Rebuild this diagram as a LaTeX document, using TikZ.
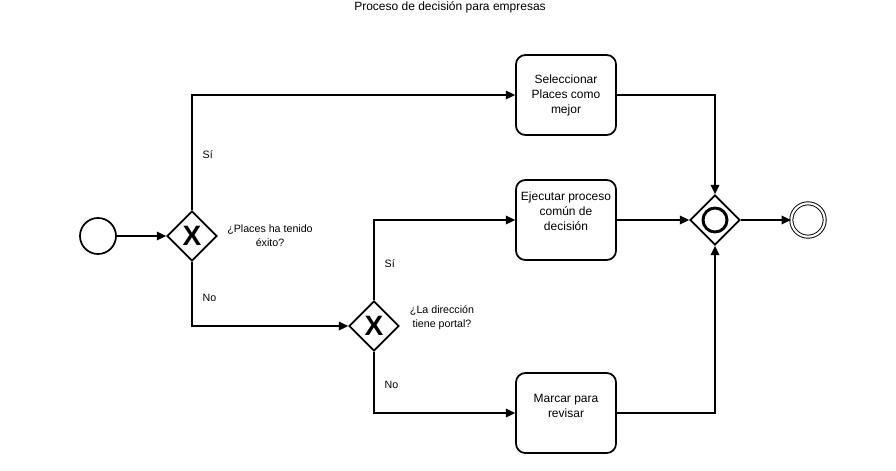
\documentclass[tikz,border=0pt]{standalone}
\usepackage{fontspec}
\setmainfont{Liberation Sans}
\usetikzlibrary{positioning}
\usetikzlibrary{shapes.geometric}
\usetikzlibrary{arrows.meta}

\begin{document}
\begin{tikzpicture}[x=0.75pt, y=-0.75pt, on grid,
        >={Triangle[length=7pt,width=6.5pt]},
        flow/.style={->, line width=1.3pt},
        ev/.style={circle, draw, line width=1.3pt, minimum size=27pt, inner sep=0pt},
        gate/.style={diamond, draw, line width=1.3pt, aspect=1, minimum size=37.5pt, inner sep=0pt},
        task/.style={rectangle, rounded corners=7pt, draw, line width=1.3pt, minimum width=75pt, minimum height=60pt, align=center, font=\fontsize{9}{11.25}\selectfont},
        lbl/.style={align=center, font=\fontsize{8}{10.5}\selectfont}]
        \useasboundingbox (0,0) rectangle (896,471);
        % title %
        \node[font=\fontsize{9}{11}\selectfont] (title) at (450,7) {Proceso de decisión para empresas};
        % nodes %
        \node[ev] (start) at (98,236) {};
        \node[gate, right=70.5pt of start, font=\fontsize{21}{21}\selectfont\bfseries] (g1) {X};
        \node[lbl, right=58.5pt of g1] (q1) {¿Places ha tenido\\éxito?};
        \node[gate, below right=67.5pt and 136.5pt of g1, font=\fontsize{21}{21}\selectfont\bfseries] (g2) {X};
        \node[lbl, above right=6pt and 51pt of g2] (q2) {¿La dirección\\tiene portal?};
        \node[task, above right=105.75pt and 280.5pt of g1] (t1) {Seleccionar\\Places como\\mejor};
        \node[task, above right=79.5pt and 144pt of g2, text depth=14pt] (t2) {Ejecutar proceso\\común de\\decisión};
        \node[task, below right=65.25pt and 144pt of g2, text depth=10pt] (t3) {Marcar para\\revisar};
        \node[gate, right=111.75pt of t2,
              path picture={\draw[line width=2.2pt] (path picture bounding box.center) circle (9pt);}] (g3) {};
        \node[ev, right=69.75pt of g3, line width=0.7pt, double, double distance=1.6pt, minimum size=25pt] (end) {};
        % edges %
        \draw[flow] (start) -- (g1);
        \draw[flow] (g1.north) |- node[lbl, pos=0.24, anchor=west, xshift=4pt] {Sí} (t1.west);
        \draw[flow] (g1.south) |- node[lbl, pos=0.28, anchor=west, xshift=4pt] {No} (g2.west);
        \draw[flow] (g2.north) |- node[lbl, pos=0.23, anchor=west, xshift=4pt] {Sí} (t2.west);
        \draw[flow] (g2.south) |- node[lbl, pos=0.27, anchor=west, xshift=4pt] {No} (t3.west);
        \draw[flow] (t1.east) -| (g3.north);
        \draw[flow] (t2.east) -- (g3.west);
        \draw[flow] (t3.east) -| (g3.south);
        \draw[flow] (g3) -- (end);
\end{tikzpicture}
\end{document}
